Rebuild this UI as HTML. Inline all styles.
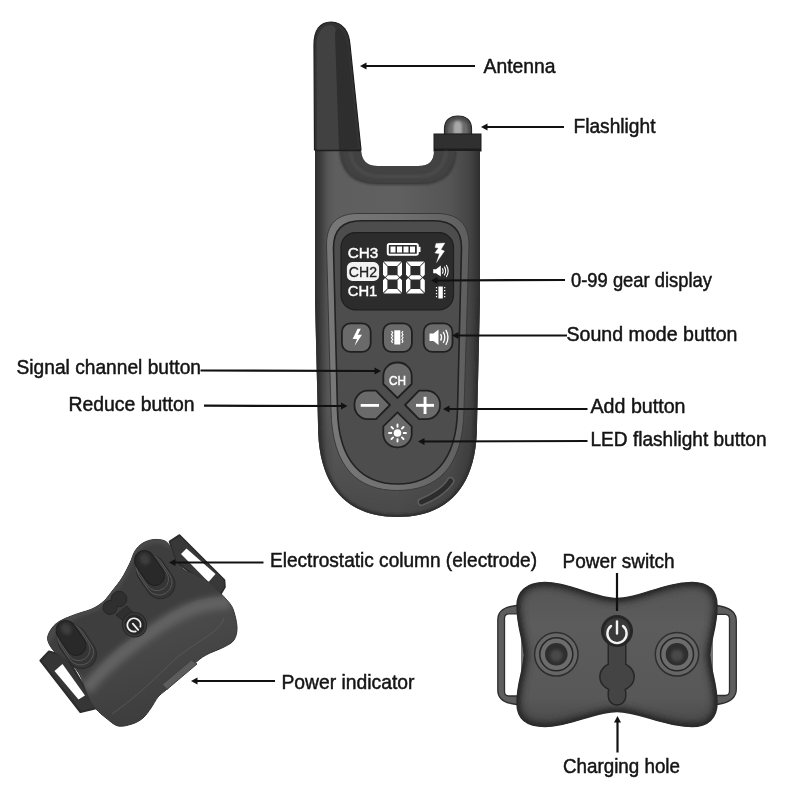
<!DOCTYPE html>
<html><head><meta charset="utf-8">
<style>
html,body{margin:0;padding:0;background:#fff;width:800px;height:800px;overflow:hidden}
svg{display:block;will-change:transform}
text{font-family:"Liberation Sans",sans-serif}
.lb{font-size:20.7px;fill:#141414;stroke:#141414;stroke-width:0.5}
.ln{stroke:#111;stroke-width:2.2;fill:none}
.ah{fill:#111}
</style></head>
<body>
<svg width="800" height="800" viewBox="0 0 800 800">
<defs>
  <linearGradient id="gBody" x1="0" x2="1" y1="0" y2="0">
    <stop offset="0" stop-color="#2e2e2e"/>
    <stop offset="0.03" stop-color="#3a3a3a"/>
    <stop offset="0.075" stop-color="#555"/>
    <stop offset="0.12" stop-color="#5e5e5e"/>
    <stop offset="0.5" stop-color="#606060"/>
    <stop offset="0.82" stop-color="#555"/>
    <stop offset="0.94" stop-color="#444"/>
    <stop offset="1" stop-color="#2e2e2e"/>
  </linearGradient>
  <linearGradient id="gBodyV" x1="0" x2="0" y1="0" y2="1">
    <stop offset="0" stop-color="#000" stop-opacity="0"/>
    <stop offset="0.7" stop-color="#000" stop-opacity="0"/>
    <stop offset="1" stop-color="#000" stop-opacity="0.25"/>
  </linearGradient>
  <filter id="blur1" x="-50%" y="-50%" width="200%" height="200%"><feGaussianBlur stdDeviation="0.8"/></filter>
  <linearGradient id="gAnt" x1="0" x2="1" y1="0" y2="0">
    <stop offset="0" stop-color="#222"/>
    <stop offset="0.12" stop-color="#3c3c3c"/>
    <stop offset="0.5" stop-color="#404040"/>
    <stop offset="0.52" stop-color="#2c2c2c"/>
    <stop offset="0.9" stop-color="#2a2a2a"/>
    <stop offset="1" stop-color="#1a1a1a"/>
  </linearGradient>
  <radialGradient id="gDome" cx="0.5" cy="0.5" r="0.5">
    <stop offset="0" stop-color="#9a9a9a"/>
    <stop offset="0.6" stop-color="#6e6e6e"/>
    <stop offset="1" stop-color="#3a3a3a"/>
  </radialGradient>
  <filter id="blur2" x="-50%" y="-50%" width="200%" height="200%"><feGaussianBlur stdDeviation="1.5"/></filter>
  <linearGradient id="gBone" x1="0" x2="0" y1="0" y2="1">
    <stop offset="0" stop-color="#555"/>
    <stop offset="0.3" stop-color="#5c5c5c"/>
    <stop offset="0.8" stop-color="#585858"/>
    <stop offset="1" stop-color="#4a4a4a"/>
  </linearGradient>
  <filter id="blur3" x="-50%" y="-50%" width="200%" height="200%"><feGaussianBlur stdDeviation="3"/></filter>
  <linearGradient id="gCol" x1="0" x2="0.3" y1="0" y2="1">
    <stop offset="0" stop-color="#4c4c4c"/>
    <stop offset="0.6" stop-color="#4a4a4a"/>
    <stop offset="1" stop-color="#3e3e3e"/>
  </linearGradient>
  <clipPath id="cBody"><path d="M315,150 L361,150 C362,160 366,166 378,166 L418,166 C430,166 434,160 434,151 L480,151 L480,300 L477,425 C477,488 447,517 397.5,517 C348,517 318,488 318,425 L315,300 Z"/></clipPath>
  <clipPath id="cBone"><path d="M545,582.6 C570,582.6 595,598.5 617,598.5 C639,598.5 664,582.6 692,582.6 C710,582.6 717,592 717,606 C717,628 710,640 710,655 C710,670 717,682 717,703 C717,718 708,726.5 692,726.5 C664,726.5 639,711.5 617,711.5 C595,711.5 570,726.5 545,726.5 C526,726.5 517,718 517,703 C517,682 524,670 524,655 C524,640 517,628 517,606 C517,592 526,582.6 545,582.6 Z"/></clipPath>
  <clipPath id="cCol"><path d="M47.6,639.0 C47.3,635.2 49.9,631.0 52.0,628.0 C54.1,625.0 57.0,622.9 60.0,621.0 C63.0,619.1 66.7,617.9 70.0,616.5 C73.3,615.1 76.2,614.2 80.0,612.9 C83.8,611.6 89.0,610.5 93.0,608.5 C97.0,606.5 100.7,604.1 104.0,601.0 C107.3,597.9 110.0,593.8 113.0,590.0 C116.0,586.2 119.2,582.5 122.0,578.0 C124.8,573.5 127.8,567.5 130.0,563.0 C132.2,558.5 132.8,554.3 135.0,551.0 C137.2,547.7 139.8,544.9 143.0,543.0 C146.2,541.1 150.3,539.8 154.0,539.5 C157.7,539.2 162.2,539.6 165.0,541.0 C167.8,542.4 169.3,545.0 171.0,548.0 C172.7,551.0 173.0,555.5 175.0,559.0 C177.0,562.5 179.7,566.3 183.0,569.0 C186.3,571.7 191.0,573.0 195.0,575.0 C199.0,577.0 203.5,578.7 207.0,581.0 C210.5,583.3 212.8,586.0 216.0,589.0 C219.2,592.0 223.2,595.7 226.0,599.0 C228.8,602.3 231.2,604.3 233.0,609.0 C234.8,613.7 236.8,621.8 237.0,627.0 C237.2,632.2 236.2,636.7 234.0,640.0 C231.8,643.3 228.7,644.5 224.0,647.0 C219.3,649.5 211.0,652.2 206.0,655.0 C201.0,657.8 198.3,660.3 194.0,664.0 C189.7,667.7 184.7,672.7 180.0,677.0 C175.3,681.3 169.7,686.7 166.0,690.0 C162.3,693.3 160.5,694.0 158.0,697.0 C155.5,700.0 153.5,704.5 151.0,708.0 C148.5,711.5 146.2,715.3 143.0,718.0 C139.8,720.7 136.2,722.7 132.0,724.0 C127.8,725.3 122.3,727.0 118.0,726.0 C113.7,725.0 109.7,720.8 106.0,718.0 C102.3,715.2 98.8,712.2 96.0,709.0 C93.2,705.8 91.0,703.0 89.0,699.0 C87.0,695.0 85.8,689.5 84.0,685.0 C82.2,680.5 81.0,676.3 78.0,672.0 C75.0,667.7 70.0,662.5 66.0,659.0 C62.0,655.5 57.1,654.3 54.0,651.0 C50.9,647.7 47.9,642.8 47.6,639.0 Z"/></clipPath>
  <linearGradient id="gRing" x1="0" x2="1" y1="0" y2="0">
    <stop offset="0" stop-color="#787878"/>
    <stop offset="0.5" stop-color="#707070"/>
    <stop offset="1" stop-color="#5e5e5e"/>
  </linearGradient>
</defs>

<!-- ============ REMOTE ============ -->
<!-- antenna -->
<path d="M314.5,150 L314,45 C314,30 320,22 331,22 C343,22 349,32 350,45 L361,150 Z" fill="#333" stroke="#1e1e1e" stroke-width="1.2"/>
<path d="M317,150 L316.5,46 C316.5,33 322,25 331,25 C334,25 336,28 336,33 L340.5,150 Z" fill="#414141"/>
<path d="M339,150 L335,34 C336,28 340,27 343,33 C346,38 347,42 348,48 L358,150 Z" fill="#2e2e2e"/>
<!-- flashlight dome -->
<path d="M444.5,135 L444.5,129 C444.5,120.5 450,116 458,116 C466,116 471.5,120.5 471.5,129 L471.5,135 Z" fill="#4a4a4a" stroke="#262626" stroke-width="1.2"/>
<path d="M448,135 L448,129.5 C448,123 452,119.5 458,119.5 C464,119.5 468,123 468,129.5 L468,135 Z" fill="#6a6a6a" filter="url(#blur1)"/>
<path d="M453.5,134 L453.5,126 C453.5,122.5 455.5,121 457.8,121 C460,121 462,122.5 462,126 L462,134 Z" fill="#a8a8a8" filter="url(#blur1)"/>
<!-- collar -->
<rect x="434" y="134" width="47" height="17" fill="#303030" stroke="#1c1c1c" stroke-width="1"/>
<rect x="434" y="148.5" width="47" height="2.5" fill="#1c1c1c"/>
<!-- body -->
<path d="M315,150 L361,150 C362,160 366,166 378,166 L418,166 C430,166 434,160 434,151 L480,151 L480,300 L477,425 C477,488 447,517 397.5,517 C348,517 318,488 318,425 L315,300 Z" fill="url(#gBody)"/>
<path d="M315,150 L361,150 C362,160 366,166 378,166 L418,166 C430,166 434,160 434,151 L480,151 L480,300 L477,425 C477,488 447,517 397.5,517 C348,517 318,488 318,425 L315,300 Z" fill="url(#gBodyV)"/>
<g clip-path="url(#cBody)"><path d="M315,300 L318,425 C318,488 348,517 397.5,517 C447,517 477,488 477,425 L480,300" fill="none" stroke="#2e2e2e" stroke-width="5" filter="url(#blur1)"/></g>
<!-- U lip -->
<path d="M340,151 C342,172 352,183 378,184 L420,184 C444,184 455,172 456,151 L434,151 C434,160 430,166 418,166 L378,166 C366,166 362,160 361,151 Z" fill="#424242"/>
<path d="M350,151 C352,166 360,176 380,176.5 L418,176.5 C436,176.5 445,166 446,151" fill="none" stroke="#4c4c4c" stroke-width="3" filter="url(#blur1)"/>
<path d="M340,151 C342,172 352,183 378,184 L420,184 C444,184 455,172 456,151" fill="none" stroke="#3a3a3a" stroke-width="2" filter="url(#blur1)"/>
<line x1="315" y1="150.5" x2="361" y2="150.5" stroke="#1e1e1e" stroke-width="1.5"/>
<!-- slot -->
<path d="M421.5,502 C432,498 445,490 450.5,481" stroke="#5e5e5e" stroke-width="8" stroke-linecap="round" fill="none"/>
<path d="M421.5,502 C432,498 445,490 450.5,481" stroke="#2c2c2c" stroke-width="5" stroke-linecap="round" fill="none"/>
<!-- bezel ring -->
<path d="M358,213.5 L437,213.5 C458,213.5 469,224 469,245 L464,410 C463,468 437,490.5 397.5,490.5 C358,490.5 332,468 331,410 L326.5,245 C326.5,224 337,213.5 358,213.5 Z" fill="url(#gRing)" stroke="#3a3a3a" stroke-width="1"/>
<!-- inner panel -->
<path d="M361,220.8 L434,220.8 C452,220.8 461.5,230 461.5,248 L457.5,410 C456.5,462 432,484 397.5,484 C363,484 338.5,462 337.5,410 L333.5,248 C333.5,230 343,220.8 361,220.8 Z" fill="#4d4d4d" stroke="#222" stroke-width="1.6"/>
<!-- LCD -->
<rect x="341" y="232.6" width="112.5" height="77.2" rx="14.5" fill="#2c2c2c" stroke="#1e1e1e" stroke-width="1.2"/>
<!-- LCD contents -->
<g fill="#fff" stroke="#fff" stroke-width="0.45">
  <text x="347.8" y="258" font-size="15.4" textLength="30.5" lengthAdjust="spacingAndGlyphs">CH3</text>
  <text x="347.8" y="296.3" font-size="15.4" textLength="29.5" lengthAdjust="spacingAndGlyphs">CH1</text>
</g>
<rect x="346.9" y="262.1" width="32.2" height="18.8" rx="5.5" fill="#f2f2f2"/>
<text x="348.8" y="276.8" font-size="15" fill="#222" stroke="#222" stroke-width="0.3" textLength="28.2" lengthAdjust="spacingAndGlyphs">CH2</text>
<!-- battery -->
<rect x="387.8" y="244" width="30" height="10.8" rx="1.5" fill="none" stroke="#fff" stroke-width="2"/>
<rect x="418" y="246.8" width="2.5" height="5.2" fill="#fff"/>
<g fill="#fff"><rect x="390.5" y="246.5" width="5" height="6"/><rect x="397" y="246.5" width="5" height="6"/><rect x="403.5" y="246.5" width="5" height="6"/><rect x="410" y="246.5" width="5" height="6"/></g>
<!-- lightning lcd -->
<path d="M436,243.4 L444.9,243 L441,249.6 L444.5,251.1 L436.5,262.5 L439.4,253.8 L434.8,253 L438.4,247.9 L435,247.6 Z" fill="#fff" stroke="#fff" stroke-width="0.3" stroke-linejoin="round"/>
<!-- 88 -->
<path fill="#fff" d="M383.6,261.5 L401.4,261.5 L397.1,265.9 L387.9,265.9 Z M383.6,293.4 L401.4,293.4 L397.1,289.0 L387.9,289.0 Z M383.0,262.1 L387.4,266.4 L387.4,274.7 L385.2,276.9 L383.0,274.7 Z M383.0,292.8 L387.4,288.4 L387.4,280.2 L385.2,278.0 L383.0,280.2 Z M402.0,262.1 L397.6,266.4 L397.6,274.7 L399.8,276.9 L402.0,274.7 Z M402.0,292.8 L397.6,288.4 L397.6,280.2 L399.8,278.0 L402.0,280.2 Z M385.8,277.4 L387.9,275.2 L397.1,275.2 L399.2,277.4 L397.1,279.6 L387.9,279.6 Z M406.6,261.5 L424.2,261.5 L419.9,265.9 L410.9,265.9 Z M406.6,293.4 L424.2,293.4 L419.9,289.0 L410.9,289.0 Z M406.0,262.1 L410.4,266.4 L410.4,274.7 L408.2,276.9 L406.0,274.7 Z M406.0,292.8 L410.4,288.4 L410.4,280.2 L408.2,278.0 L406.0,280.2 Z M424.8,262.1 L420.4,266.4 L420.4,274.7 L422.6,276.9 L424.8,274.7 Z M424.8,292.8 L420.4,288.4 L420.4,280.2 L422.6,278.0 L424.8,280.2 Z M408.8,277.4 L410.9,275.2 L419.9,275.2 L422.1,277.4 L419.9,279.6 L410.9,279.6 Z"/>
<!-- speaker lcd -->
<path d="M433.2,269.2 L436,269.2 L440.8,265.6 L440.8,276.4 L436,273.2 L433.2,273.2 Z" fill="#fff"/>
<path d="M442.3,268.3 Q444,271 442.3,273.7 M444.3,266.6 Q447,271 444.3,275.4 M446.3,265 Q450,271 446.3,277" stroke="#fff" stroke-width="1.1" fill="none"/>
<!-- vib lcd -->
<rect x="438.4" y="286.5" width="4.4" height="12" fill="#fff"/>
<path d="M436.5,287 v1.3 M436.5,290 v1.3 M436.5,293 v1.3 M436.5,296 v1.3 M444.7,287 v1.3 M444.7,290 v1.3 M444.7,293 v1.3 M444.7,296 v1.3" stroke="#fff" stroke-width="1.2" fill="none"/>

<!-- top buttons -->
<g fill="#6a6a6a" stroke="#202020" stroke-width="1.8">
  <rect x="341.9" y="323.4" width="28.8" height="28.4" rx="8.5"/>
  <rect x="383.1" y="323.4" width="28.8" height="28.4" rx="8.5"/>
  <rect x="423.7" y="323.4" width="28.8" height="28.4" rx="8.5"/>
</g>
<path d="M357.6,328.8 L352.6,339 L357,339 L354.5,346 L362,334.8 L357.8,334.8 L360.8,328.8 Z" fill="#fff"/>
<rect x="394.3" y="330.3" width="6" height="14.2" fill="#fff"/>
<path d="M391.5,331 l1.2,1.7 l-1.2,1.7 l1.2,1.7 l-1.2,1.7 l1.2,1.7 l-1.2,1.7 l1.2,1.7 M403,331 l-1.2,1.7 l1.2,1.7 l-1.2,1.7 l1.2,1.7 l-1.2,1.7 l1.2,1.7 l-1.2,1.7" stroke="#fff" stroke-width="1.1" fill="none"/>
<path d="M429.5,333.5 L433.5,333.5 L438.5,329.5 L438.5,345 L433.5,341 L429.5,341 Z" fill="#fff"/>
<path d="M440.6,334 Q442.6,337.3 440.6,340.6 M443.2,331.8 Q446.5,337.3 443.2,342.8 M445.8,329.8 Q450.2,337.3 445.8,344.8" stroke="#fff" stroke-width="1.3" fill="none"/>

<!-- dpad -->

<g fill="#6a6a6a" stroke="#202020" stroke-width="1.8" stroke-linejoin="round">
  <path d="M397.5,398 L411.7,384 L411.7,375.5 A13.5,13.5 0 0 0 398.2,362.5 L396.8,362.5 A13.5,13.5 0 0 0 383.3,375.5 L383.3,384 Z"/>
  <path d="M397.5,412.3 L411.7,426.3 L411.7,434.8 A13.5,13.5 0 0 1 398.2,447.3 L396.8,447.3 A13.5,13.5 0 0 1 383.3,434.8 L383.3,426.3 Z"/>
  <path d="M390,405 L376,390.7 L367.5,390.7 A13.5,13.5 0 0 0 354.5,404.2 L354.5,405.8 A13.5,13.5 0 0 0 367.5,419.2 L376,419.2 Z"/>
  <path d="M405,405 L419,390.7 L427.5,390.7 A13.5,13.5 0 0 1 440,404.2 L440,405.8 A13.5,13.5 0 0 1 427.5,419.2 L419,419.2 Z"/>
</g>
<text x="389" y="385.3" font-size="12.5" fill="#fff" stroke="#fff" stroke-width="0.5" textLength="17" lengthAdjust="spacingAndGlyphs">CH</text>
<rect x="360.7" y="404" width="18.3" height="2.8" fill="#fff"/>
<rect x="416" y="403.9" width="18" height="2.9" fill="#fff"/>
<rect x="423.6" y="396.8" width="2.9" height="17.2" fill="#fff"/>
<g stroke="#fff" stroke-width="1.9" stroke-linecap="round">
  <circle cx="397.5" cy="433" r="3.8" fill="#fff" stroke="none"/>
  <path d="M397.5,424.5 v2.3 M397.5,439.2 v2.3 M389,433 h2.3 M403.7,433 h2.3 M391.5,427 l1.6,1.6 M401.9,437.4 l1.6,1.6 M403.5,427 l-1.6,1.6 M393.1,437.4 l-1.6,1.6"/>
</g>

<!-- ============ LEFT COLLAR ============ -->
<!-- bottom-left strap -->
<path d="M40.5,660.5 L49,651.5 L66,656 L92,700 L97,708 L80.5,712 Z" fill="#363636" stroke="#2c2c2c" stroke-width="2.2" stroke-linejoin="round"/>
<path d="M54.5,671 L62.5,664 L85,695.5 L78.5,699.5 Z" fill="#fff"/>
<!-- top-right strap -->
<path d="M169.5,541.5 L179.5,535 L224.5,580 L225,587 L220.5,594.5 L176,562 Z" fill="#383838" stroke="#2a2a2a" stroke-width="1.6" stroke-linejoin="round"/>
<path d="M181,554 L186.5,548.5 L215.5,574 L208.5,582 Z" fill="#fff"/>
<!-- body -->
<path d="M47.6,639.0 C47.3,635.2 49.9,631.0 52.0,628.0 C54.1,625.0 57.0,622.9 60.0,621.0 C63.0,619.1 66.7,617.9 70.0,616.5 C73.3,615.1 76.2,614.2 80.0,612.9 C83.8,611.6 89.0,610.5 93.0,608.5 C97.0,606.5 100.7,604.1 104.0,601.0 C107.3,597.9 110.0,593.8 113.0,590.0 C116.0,586.2 119.2,582.5 122.0,578.0 C124.8,573.5 127.8,567.5 130.0,563.0 C132.2,558.5 132.8,554.3 135.0,551.0 C137.2,547.7 139.8,544.9 143.0,543.0 C146.2,541.1 150.3,539.8 154.0,539.5 C157.7,539.2 162.2,539.6 165.0,541.0 C167.8,542.4 169.3,545.0 171.0,548.0 C172.7,551.0 173.0,555.5 175.0,559.0 C177.0,562.5 179.7,566.3 183.0,569.0 C186.3,571.7 191.0,573.0 195.0,575.0 C199.0,577.0 203.5,578.7 207.0,581.0 C210.5,583.3 212.8,586.0 216.0,589.0 C219.2,592.0 223.2,595.7 226.0,599.0 C228.8,602.3 231.2,604.3 233.0,609.0 C234.8,613.7 236.8,621.8 237.0,627.0 C237.2,632.2 236.2,636.7 234.0,640.0 C231.8,643.3 228.7,644.5 224.0,647.0 C219.3,649.5 211.0,652.2 206.0,655.0 C201.0,657.8 198.3,660.3 194.0,664.0 C189.7,667.7 184.7,672.7 180.0,677.0 C175.3,681.3 169.7,686.7 166.0,690.0 C162.3,693.3 160.5,694.0 158.0,697.0 C155.5,700.0 153.5,704.5 151.0,708.0 C148.5,711.5 146.2,715.3 143.0,718.0 C139.8,720.7 136.2,722.7 132.0,724.0 C127.8,725.3 122.3,727.0 118.0,726.0 C113.7,725.0 109.7,720.8 106.0,718.0 C102.3,715.2 98.8,712.2 96.0,709.0 C93.2,705.8 91.0,703.0 89.0,699.0 C87.0,695.0 85.8,689.5 84.0,685.0 C82.2,680.5 81.0,676.3 78.0,672.0 C75.0,667.7 70.0,662.5 66.0,659.0 C62.0,655.5 57.1,654.3 54.0,651.0 C50.9,647.7 47.9,642.8 47.6,639.0 Z" fill="url(#gCol)" stroke="#333" stroke-width="1"/>
<!-- top face -->
<path d="M47.6,639.0 C47.3,635.2 49.9,631.0 52.0,628.0 C54.1,625.0 57.0,622.9 60.0,621.0 C63.0,619.1 66.7,617.9 70.0,616.5 C73.3,615.1 76.2,614.2 80.0,612.9 C83.8,611.6 89.0,610.5 93.0,608.5 C97.0,606.5 100.7,604.1 104.0,601.0 C107.3,597.9 110.0,593.8 113.0,590.0 C116.0,586.2 119.2,582.5 122.0,578.0 C124.8,573.5 127.8,567.5 130.0,563.0 C132.2,558.5 132.8,554.3 135.0,551.0 C137.2,547.7 139.8,544.9 143.0,543.0 C146.2,541.1 150.3,539.8 154.0,539.5 C157.7,539.2 162.2,539.6 165.0,541.0 C167.8,542.4 169.3,545.0 171.0,548.0 C172.7,551.0 173.0,555.5 175.0,559.0 C177.0,562.5 179.7,566.3 183.0,569.0 C186.3,571.7 191.0,573.0 195.0,575.0 C199.0,577.0 203.5,578.7 207.0,581.0 C210.5,583.3 213.7,586.5 216.0,589.0 C218.3,591.5 222.0,594.5 221.0,596.0 C220.0,597.5 214.3,597.2 210.0,598.0 C205.7,598.8 200.7,598.8 195.0,601.0 C189.3,603.2 182.3,607.3 176.0,611.0 C169.7,614.7 163.7,618.8 157.0,623.0 C150.3,627.2 142.8,631.5 136.0,636.0 C129.2,640.5 122.0,644.8 116.0,650.0 C110.0,655.2 104.5,661.7 100.0,667.0 C95.5,672.3 92.3,681.2 89.0,682.0 C85.7,682.8 83.8,675.8 80.0,672.0 C76.2,668.2 70.3,662.5 66.0,659.0 C61.7,655.5 57.1,654.3 54.0,651.0 C50.9,647.7 47.9,642.8 47.6,639.0 Z" fill="#3e3e3e"/>
<g clip-path="url(#cCol)"><path d="M44,648 C50,628 70,616 94,608 C110,600 122,580 134,552 C142,540 158,536 172,546" fill="none" stroke="#4a4a4a" stroke-width="7" filter="url(#blur2)"/></g>
<!-- highlight -->
<g clip-path="url(#cCol)"><path d="M86,690 C100,670 125,650 157,628 C180,612 200,603 230,602" stroke="#626262" stroke-width="13" fill="none" filter="url(#blur3)"/></g>
<!-- seam -->
<path d="M112,714 C135,698 158,676 175,659 C190,647 204,639 212,633 C218,628 222,624 224,618" stroke="#5a5a5a" stroke-width="0.8" fill="none"/>
<!-- electrode top -->
<g transform="translate(149.5 568) rotate(56)">
  <rect x="-12" y="-14.5" width="46" height="29" rx="14.5" fill="#353535" stroke="#2a2a2a" stroke-width="1"/>
  <rect x="-13" y="-13" width="43" height="26" rx="13" fill="none" stroke="#575757" stroke-width="0.9"/>
  <rect x="-15" y="-11.5" width="40" height="23" rx="11.5" fill="none" stroke="#555" stroke-width="0.9"/>
  <rect x="-19" y="-10" width="38" height="20" rx="10" fill="#292929" stroke="#202020" stroke-width="1"/>
  <ellipse cx="-10" cy="-1" rx="6" ry="5" fill="#3c3c3c" filter="url(#blur2)"/>
</g>
<!-- electrode left -->
<g transform="translate(71 638) rotate(56)">
  <rect x="-12" y="-14.5" width="46" height="29" rx="14.5" fill="#353535" stroke="#2a2a2a" stroke-width="1"/>
  <rect x="-13" y="-13" width="43" height="26" rx="13" fill="none" stroke="#575757" stroke-width="0.9"/>
  <rect x="-15" y="-11.5" width="40" height="23" rx="11.5" fill="none" stroke="#555" stroke-width="0.9"/>
  <rect x="-19" y="-10" width="38" height="20" rx="10" fill="#292929" stroke="#202020" stroke-width="1"/>
  <ellipse cx="-10" cy="-1" rx="6" ry="5" fill="#3c3c3c" filter="url(#blur2)"/>
</g>
<!-- recess -->
<g fill="#2f2f2f" stroke="#262626" stroke-width="1">
<circle cx="119" cy="599" r="7.8"/>
<circle cx="110" cy="607.5" r="7"/>
<path d="M116,615 L126.5,606 L134,613.5 L125,622 Z"/>
</g>
<g fill="#2f2f2f">
<circle cx="119" cy="599" r="7.3"/>
<circle cx="110" cy="607.5" r="6.5"/>
<path d="M116.5,614 L126,606.5 L133,613.5 L125,621 Z"/>
</g>
<!-- power button -->
<ellipse cx="134.5" cy="624.8" rx="12" ry="12.3" transform="rotate(-35 134.5 624.8)" fill="#3a3a3a" stroke="#262626" stroke-width="1"/>
<ellipse cx="134.5" cy="624.8" rx="10" ry="10.3" transform="rotate(-35 134.5 624.8)" fill="#262626"/>
<g transform="translate(134 625)" stroke="#f0f0f0" stroke-width="1.8" fill="none" stroke-linecap="round">
<path d="M1.71,6.38 A6.6,6.6 0 0 1 -6.08,-2.58"/>
<path d="M-5.41,-3.79 A6.6,6.6 0 0 1 6.38,1.71"/>
<line x1="-1.2" y1="-1.3" x2="4.2" y2="4.8"/>
</g>
<!-- power indicator -->
<path d="M162.3,684.5 L191.5,660 L197,664 L167,689.4 Z" fill="#5c5c5c" stroke="#404040" stroke-width="1" stroke-linejoin="round"/>

<!-- ============ RIGHT COLLAR ============ -->
<!-- straps -->
<path d="M522,604.5 L511,606.5 C503,608 497.8,612 497.8,620 L497.8,690 C497.8,698 503,702 511,703.5 L522,705.5 Z M522,613.8 L509,613.8 Q504.5,613.8 504.5,618.3 L504.5,691.5 Q504.5,696 509,696 L522,696 Z" fill="#5e5e5e" fill-rule="evenodd" stroke="#2e2e2e" stroke-width="1.3" stroke-linejoin="round"/>
<path d="M712,604.5 L722,606.5 C731,608.5 736.3,613 736.3,621 L736.3,689 C736.3,697 731,701.5 722,703.5 L712,705.5 Z M712,614.3 L725,614.3 Q729.5,614.3 729.5,618.8 L729.5,691 Q729.5,695.5 725,695.5 L712,695.5 Z" fill="#5e5e5e" fill-rule="evenodd" stroke="#2e2e2e" stroke-width="1.3" stroke-linejoin="round"/>
<!-- bone body -->
<path d="M545,582.6 C570,582.6 595,598.5 617,598.5 C639,598.5 664,582.6 692,582.6 C710,582.6 717,592 717,606 C717,628 710,640 710,655 C710,670 717,682 717,703 C717,718 708,726.5 692,726.5 C664,726.5 639,711.5 617,711.5 C595,711.5 570,726.5 545,726.5 C526,726.5 517,718 517,703 C517,682 524,670 524,655 C524,640 517,628 517,606 C517,592 526,582.6 545,582.6 Z" fill="url(#gBone)" stroke="#2a2a2a" stroke-width="1.5"/>
<g clip-path="url(#cBone)"><path d="M545,582.6 C570,582.6 595,598.5 617,598.5 C639,598.5 664,582.6 692,582.6 C710,582.6 717,592 717,606 C717,628 710,640 710,655 C710,670 717,682 717,703 C717,718 708,726.5 692,726.5 C664,726.5 639,711.5 617,711.5 C595,711.5 570,726.5 545,726.5 C526,726.5 517,718 517,703 C517,682 524,670 524,655 C524,640 517,628 517,606 C517,592 526,582.6 545,582.6 Z" fill="none" stroke="#333" stroke-width="10" filter="url(#blur3)"/><path d="M545,582.6 C570,582.6 595,598.5 617,598.5 C639,598.5 664,582.6 692,582.6 C710,582.6 717,592 717,606 C717,628 710,640 710,655 C710,670 717,682 717,703 C717,718 708,726.5 692,726.5 C664,726.5 639,711.5 617,711.5 C595,711.5 570,726.5 545,726.5 C526,726.5 517,718 517,703 C517,682 524,670 524,655 C524,640 517,628 517,606 C517,592 526,582.6 545,582.6 Z" fill="none" stroke="#2a2a2a" stroke-width="4" filter="url(#blur1)"/></g>
<!-- electrodes -->
<g>
<circle cx="556.3" cy="654.3" r="21.7" fill="#666" stroke="#2e2e2e" stroke-width="1.5"/>
<circle cx="556.3" cy="654.3" r="16.5" fill="#6c6c6c" stroke="#262626" stroke-width="1.5"/>
<circle cx="556.3" cy="654.3" r="11.3" fill="#2e2e2e"/>
<circle cx="556.3" cy="655.5" r="6" fill="#4a4a4a" filter="url(#blur2)"/>
</g>
<g>
<circle cx="677" cy="654.3" r="21.7" fill="#666" stroke="#2e2e2e" stroke-width="1.5"/>
<circle cx="677" cy="654.3" r="16.5" fill="#6c6c6c" stroke="#262626" stroke-width="1.5"/>
<circle cx="677" cy="654.3" r="11.3" fill="#2e2e2e"/>
<circle cx="677" cy="655.5" r="6" fill="#4a4a4a" filter="url(#blur2)"/>
</g>
<!-- keyhole -->
<g fill="#262626" stroke="#262626" stroke-width="3">
<rect x="609" y="640" width="16" height="30"/>
<ellipse cx="617" cy="676.7" rx="16.4" ry="13.8"/>
<rect x="609" y="684" width="16" height="20.3" rx="8"/>
</g>
<g fill="#444">
<rect x="609" y="640" width="16" height="30"/>
<ellipse cx="617" cy="676.7" rx="16.4" ry="13.8"/>
<rect x="609" y="684" width="16" height="20.3" rx="8"/>
</g>
<!-- power btn -->
<circle cx="617" cy="631" r="16" fill="#262626"/>
<circle cx="617" cy="631" r="13" fill="#3a3a3a"/>
<path d="M611,626 A9.6,9.6 0 1 0 623,626" stroke="#f4f4f4" stroke-width="2.4" fill="none" stroke-linecap="round"/>
<line x1="617" y1="621.5" x2="617" y2="633.5" stroke="#f4f4f4" stroke-width="2.4" stroke-linecap="round"/>

<!-- ============ LINES ============ -->
<g class="ln">
  <line x1="364" y1="66" x2="475" y2="66"/>
  <line x1="485" y1="127" x2="564" y2="127"/>
  <line x1="435" y1="280.5" x2="565" y2="280"/>
  <line x1="456" y1="335.5" x2="567" y2="335.5"/>
  <line x1="200.5" y1="370.5" x2="377" y2="371"/>
  <line x1="204" y1="405.7" x2="343.5" y2="406"/>
  <line x1="447" y1="409" x2="587.5" y2="409"/>
  <line x1="422" y1="441.5" x2="587.5" y2="441"/>
  <line x1="173" y1="562.5" x2="263.5" y2="562.5"/>
  <line x1="195" y1="681" x2="275" y2="681"/>
  <line x1="617" y1="573" x2="617" y2="611"/>
  <line x1="617.5" y1="720" x2="617.5" y2="752.5"/>
</g>
<g class="ah">
  <path d="M360,66 L366.5,62.5 L366.5,69.5 Z"/>
  <path d="M481,127 L487.5,123.5 L487.5,130.5 Z"/>
  <path d="M431,280.5 L437.5,277 L437.5,284 Z"/>
  <path d="M452,335.5 L458.5,332 L458.5,339 Z"/>
  <path d="M381,371 L374.5,367.5 L374.5,374.5 Z"/>
  <path d="M347.5,406 L341,402.5 L341,409.5 Z"/>
  <path d="M443,409 L449.5,405.5 L449.5,412.5 Z"/>
  <path d="M418,441.5 L424.5,438 L424.5,445 Z"/>
  <path d="M169,562.5 L175.5,559 L175.5,566 Z"/>
  <path d="M191,681 L197.5,677.5 L197.5,684.5 Z"/>
  <path d="M617.5,716 L614,722.5 L621,722.5 Z"/>
</g>

<!-- ============ LABELS ============ -->
<g class="lb">
  <text x="483.5" y="72.5" textLength="72" lengthAdjust="spacingAndGlyphs">Antenna</text>
  <text x="573.5" y="133" textLength="82" lengthAdjust="spacingAndGlyphs">Flashlight</text>
  <text x="571" y="287" textLength="141" lengthAdjust="spacingAndGlyphs">0-99 gear display</text>
  <text x="566.5" y="341.3" textLength="171" lengthAdjust="spacingAndGlyphs">Sound mode button</text>
  <text x="16.5" y="373.7" textLength="184.5" lengthAdjust="spacingAndGlyphs">Signal channel button</text>
  <text x="68.5" y="411.3" textLength="126" lengthAdjust="spacingAndGlyphs">Reduce button</text>
  <text x="590.5" y="413.4" textLength="95" lengthAdjust="spacingAndGlyphs">Add button</text>
  <text x="590.5" y="446" textLength="176" lengthAdjust="spacingAndGlyphs">LED flashlight button</text>
  <text x="270" y="567" textLength="267" lengthAdjust="spacingAndGlyphs">Electrostatic column (electrode)</text>
  <text x="562.5" y="568" textLength="112" lengthAdjust="spacingAndGlyphs">Power switch</text>
  <text x="281.5" y="688.7" textLength="133" lengthAdjust="spacingAndGlyphs">Power indicator</text>
  <text x="563" y="773" textLength="117" lengthAdjust="spacingAndGlyphs">Charging hole</text>
</g>
</svg>
</body></html>
